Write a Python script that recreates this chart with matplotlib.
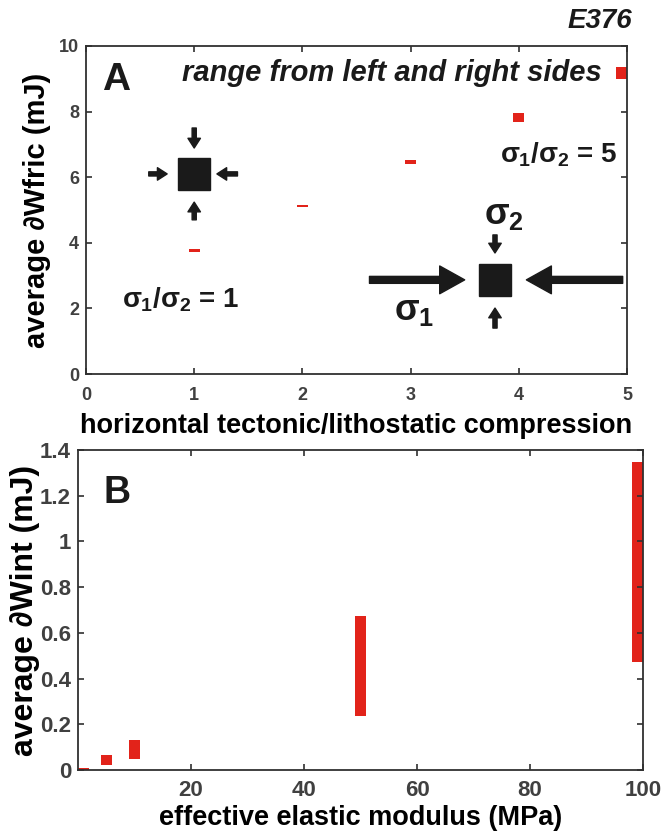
import matplotlib
matplotlib.use('Agg')
import matplotlib.pyplot as plt

# panel A data: horizontal tectonic/lithostatic compression vs range of avg dWfric
compression = [1, 2, 3, 4, 4.95]
wfric_low = [3.71, 5.10, 6.40, 7.69, 8.99]
wfric_high = [3.80, 5.14, 6.52, 7.95, 9.36]

# panel B data: effective elastic modulus vs range of avg dWint
modulus = [1, 5, 10, 50, 99]
wint_low = [0.0, 0.022, 0.048, 0.236, 0.472]
wint_high = [0.010, 0.066, 0.131, 0.674, 1.347]

xticks_a = [0, 1, 2, 3, 4, 5]
yticks_a = [0, 2, 4, 6, 8, 10]
xticks_b = [20, 40, 60, 80, 100]
yticks_b = [0, 0.2, 0.4, 0.6, 0.8, 1, 1.2, 1.4]

red = '#e2231a'
dark = '#1a1a1a'
grey = '#404040'

plt.rcParams['font.family'] = ['Liberation Sans', 'DejaVu Sans']
plt.rcParams['font.weight'] = 'bold'
plt.rcParams['mathtext.fontset'] = 'custom'
plt.rcParams['mathtext.rm'] = 'Liberation Sans:bold'
plt.rcParams['mathtext.it'] = 'Liberation Sans:bold'
plt.rcParams['mathtext.bf'] = 'Liberation Sans:bold'

fig = plt.figure(figsize=(6.62, 8.33), dpi=100)
axA = fig.add_axes([86/662, 1-374/833, 541/662, 328/833])
axB = fig.add_axes([78/662, 1-770/833, 565/662, 320/833])


def style(ax, size, xpad):
    for s in ax.spines.values():
        s.set_color('#303030')
        s.set_linewidth(1.3)
    ax.tick_params(direction='in', length=4, width=1.2, top=True, right=True,
                   colors='#303030', labelcolor=grey, labelsize=size, pad=5)
    ax.tick_params(axis='x', pad=xpad)
    for lab in ax.get_xticklabels() + ax.get_yticklabels():
        lab.set_fontweight('bold')


# ---- panel A ----
axA.bar(compression, [h - l for h, l in zip(wfric_high, wfric_low)], bottom=wfric_low,
        width=0.1, color=red, edgecolor='none')
axA.set_xlim(0, 5)
axA.set_ylim(0, 10)
axA.set_xticks(xticks_a)
axA.set_yticks(yticks_a)
style(axA, 13, 9)
axA.set_xlabel('horizontal tectonic/lithostatic compression', fontsize=19.5, fontweight='bold', labelpad=7)
axA.set_ylabel('average \u2202Wfric (mJ)', fontsize=21, fontweight='bold', labelpad=6)

axA.text(0.15, 8.66, 'A', fontsize=28, fontweight='bold', ha='left', va='baseline', color=dark)
axA.text(0.89, 8.93, 'range from left and right sides', fontsize=21, fontweight='bold',
         style='italic', ha='left', va='baseline', color=dark)


def arrow(ax, start, end, hl, hw, tw):
    ax.annotate('', xy=end, xytext=start,
                arrowprops=dict(arrowstyle=f'simple,head_length={hl},head_width={hw},tail_width={tw}',
                                mutation_scale=1, color=dark, shrinkA=0, shrinkB=0))


# small block, sigma1/sigma2 = 1
axA.plot([1.0], [6.1], 's', ms=23, color=dark)
arrow(axA, (1.0, 7.50), (1.0, 6.89), 7, 9, 3)
arrow(axA, (1.0, 4.70), (1.0, 5.24), 7, 9, 3)
arrow(axA, (0.58, 6.1), (0.75, 6.1), 7, 9, 3)
arrow(axA, (1.40, 6.1), (1.21, 6.1), 7, 9, 3)
axA.text(0.87, 2.26, r'$\sigma_1/\sigma_2$ = 1', fontsize=20, ha='center', va='center', color=dark)

# block with sigma1/sigma2 = 5
axA.plot([3.78], [2.87], 's', ms=23, color=dark)
arrow(axA, (2.62, 2.87), (3.50, 2.87), 18, 20, 5)
arrow(axA, (4.96, 2.87), (4.07, 2.87), 18, 20, 5)
arrow(axA, (3.78, 4.24), (3.78, 3.69), 7, 9, 3)
arrow(axA, (3.78, 1.40), (3.78, 2.01), 7, 9, 3)
axA.text(3.86, 4.85, r'$\sigma_2$', fontsize=26, ha='center', va='center', color=dark)
axA.text(3.03, 1.95, r'$\sigma_1$', fontsize=26, ha='center', va='center', color=dark)
axA.text(4.37, 6.68, r'$\sigma_1/\sigma_2$ = 5', fontsize=20, ha='center', va='center', color=dark)

fig.text(632/662, 1-28/833, 'E376', fontsize=20, fontweight='bold', style='italic',
         ha='right', va='baseline', color=dark)

# ---- panel B ----
axB.bar(modulus, [h - l for h, l in zip(wint_high, wint_low)], bottom=wint_low,
        width=2, color=red, edgecolor='none')
axB.set_xlim(0, 100)
axB.set_ylim(0, 1.4)
axB.set_xticks(xticks_b)
axB.set_yticks(yticks_b)
axB.set_yticklabels(['%g' % v for v in yticks_b])
style(axB, 16, 7)
axB.set_xlabel('effective elastic modulus (MPa)', fontsize=19.5, fontweight='bold', labelpad=3)
axB.set_ylabel('average \u2202Wint (mJ)', fontsize=23, fontweight='bold')
axB.yaxis.set_label_coords(-0.068, 0.5)
axB.text(4.5, 1.168, 'B', fontsize=27, fontweight='bold', ha='left', va='baseline', color=dark)

fig.savefig('out.png', dpi=100)
